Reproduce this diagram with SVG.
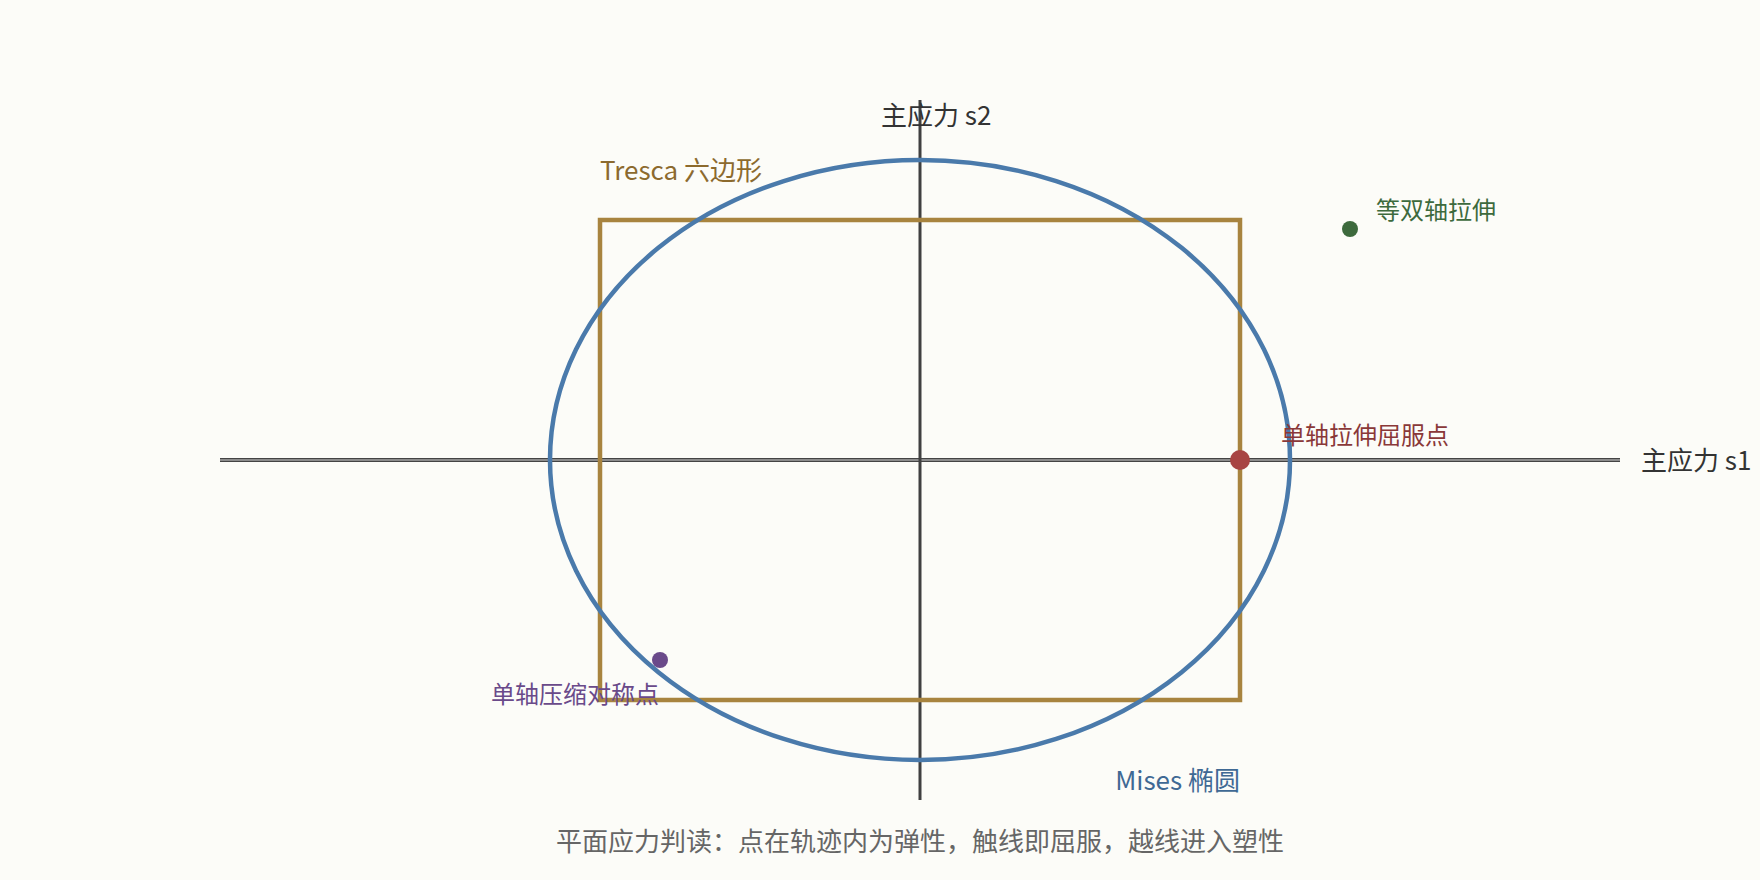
<svg xmlns="http://www.w3.org/2000/svg" width="1760" height="880" viewBox="0 0 1760 880">
<style>
text{font-family:"Noto Sans CJK SC","Noto Sans",sans-serif}
.axis{font-size:26px;fill:#333333}
.lbl{font-size:24px}
.big{font-size:26px}
.cap{font-size:26px;fill:#666666}
</style>
<rect width="1760" height="880" fill="#fcfcf8"/>
<g id="axes">
<line x1="220" y1="460" x2="1620" y2="460" stroke="#444444" stroke-width="4"/>
<line x1="220" y1="460" x2="1620" y2="460" stroke="#8c8c8c" stroke-width="2"/>
<line x1="920" y1="100" x2="920" y2="800" stroke="#404040" stroke-width="3"/>
<text class="axis" x="1641" y="470">主应力 s1</text>
<text class="axis" x="881" y="125">主应力 s2</text>
</g>
<g id="tresca">
<rect x="600" y="220" width="640" height="480" fill="none" stroke="#a8843f" stroke-width="4.5"/>
<text class="big" x="600" y="180" fill="#8c6a2e">Tresca 六边形</text>
</g>
<g id="mises">
<ellipse cx="920" cy="460" rx="370" ry="300" fill="none" stroke="#4a7aab" stroke-width="4.5"/>
<text class="big" x="1240" y="790" text-anchor="end" fill="#3f6994">Mises 椭圆</text>
</g>
<g id="uniaxial-tension">
<circle cx="1240" cy="460" r="10" fill="#a84444"/>
<text class="lbl" x="1281" y="444" fill="#8a3838">单轴拉伸屈服点</text>
</g>
<g id="equibiaxial">
<circle cx="1350" cy="229" r="8" fill="#3d6a3d"/>
<text class="lbl" x="1376" y="219" fill="#3d6a3d">等双轴拉伸</text>
</g>
<g id="uniaxial-compression">
<circle cx="660" cy="660" r="8" fill="#6a4a8a"/>
<text class="lbl" x="491" y="703" fill="#6a4a8a">单轴压缩对称点</text>
</g>
<g id="caption">
<text class="cap" x="920" y="851" text-anchor="middle">平面应力判读：点在轨迹内为弹性，触线即屈服，越线进入塑性</text>
</g>
</svg>
